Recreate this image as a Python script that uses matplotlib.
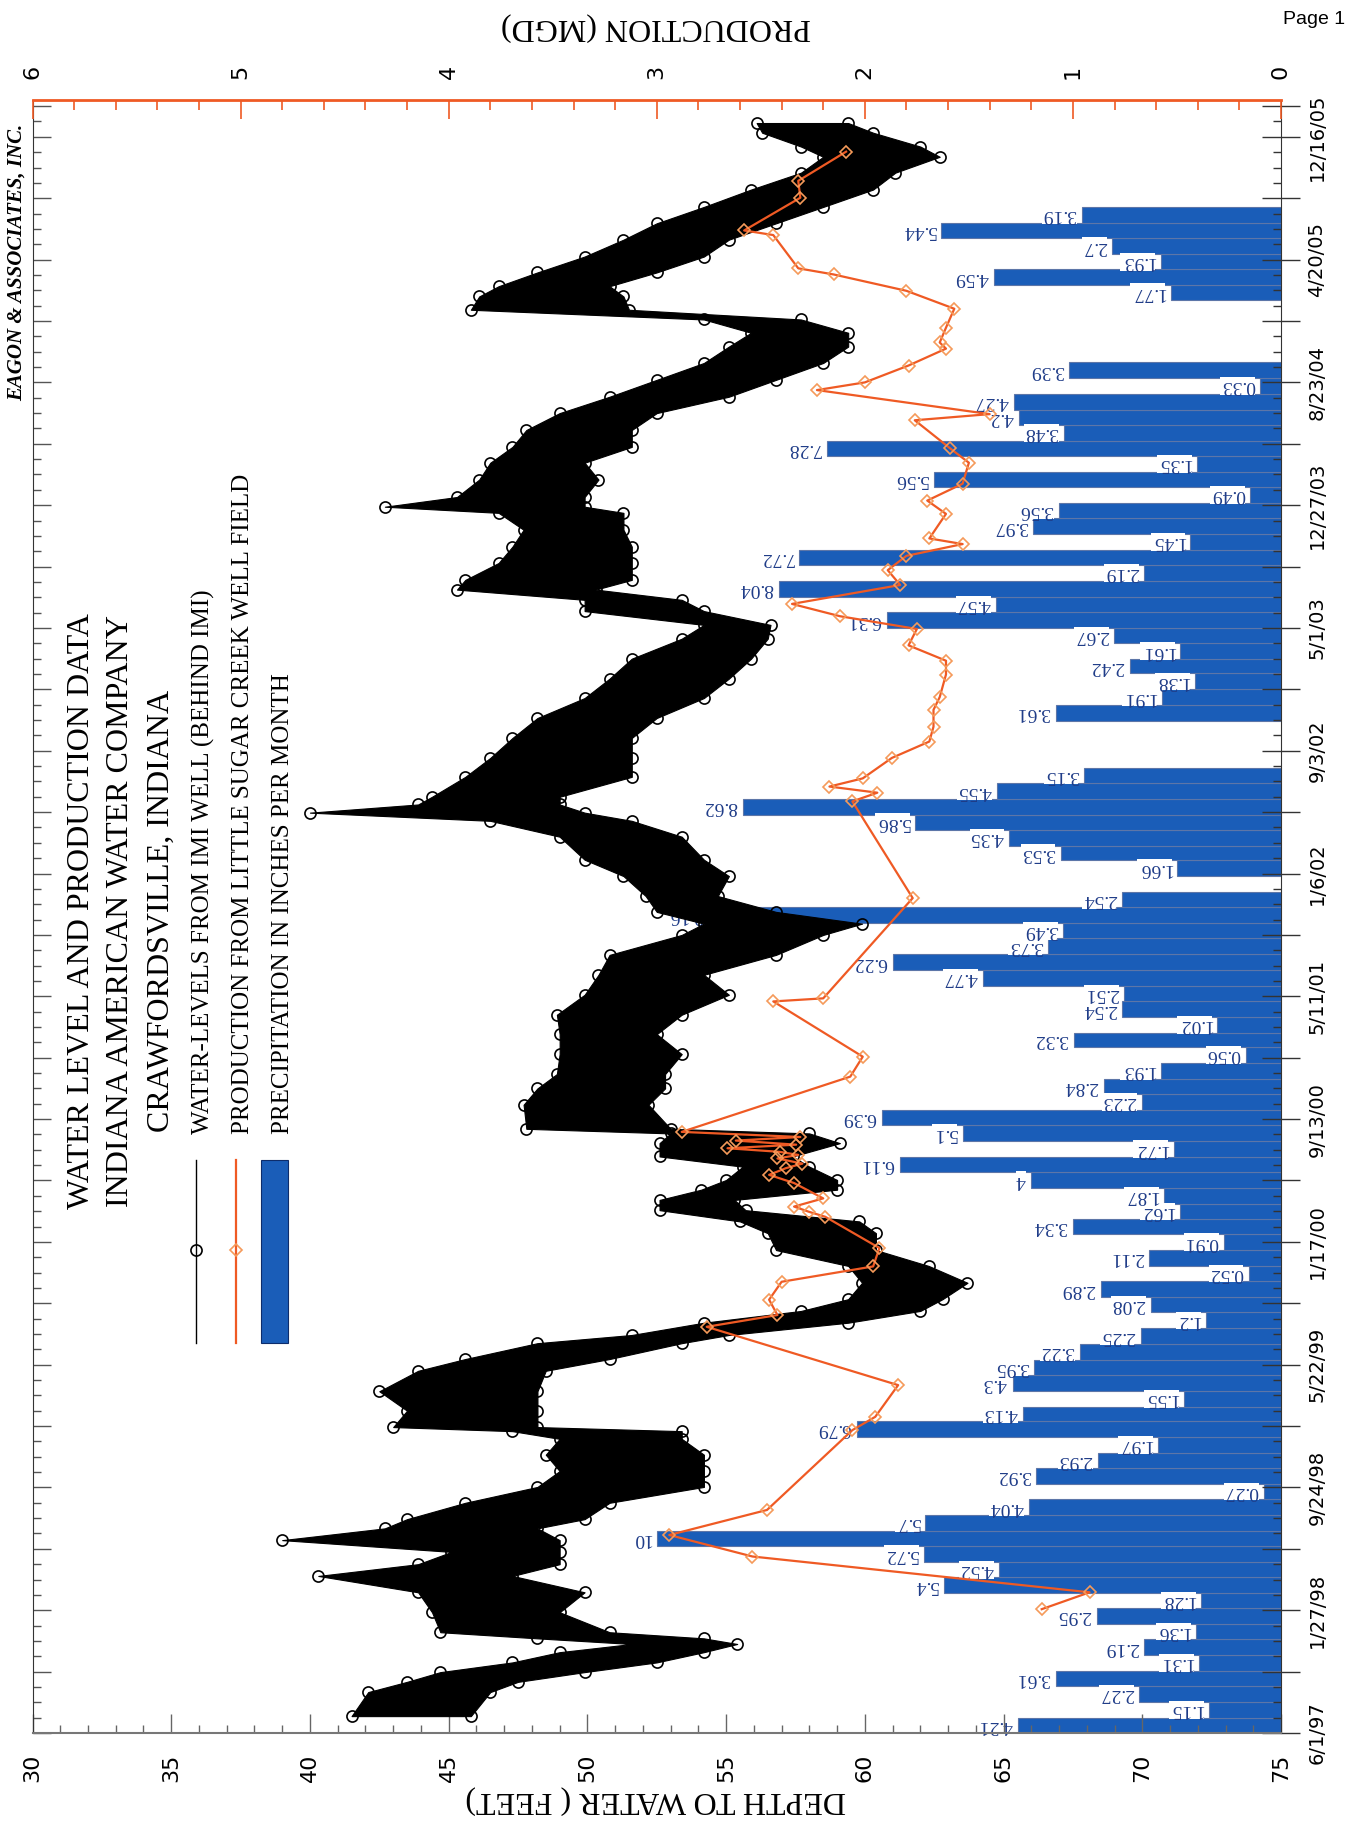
import numpy as np
import pandas as pd
import matplotlib
matplotlib.use("Agg")
import matplotlib.pyplot as plt
import matplotlib.dates as mdates
from matplotlib.ticker import MultipleLocator
from matplotlib.lines import Line2D
from matplotlib.patches import Rectangle

# ---- values ----
start = "1997-06-01"   # date origin of the record

# monthly precipitation (inches), Jun 1997 .. Jul 2005, None = no bar
rain_in = [
    4.21, 1.15, 2.27, 3.61, 1.31, 2.19, 1.36,
    2.95, 1.28, 5.4, 4.52, 5.72, 10, 5.7, 4.04, 0.27, 3.92, 2.93, 1.97,
    6.79, 4.13, 1.55, 4.3, 3.95, 3.22, 2.25, 1.2, 2.08, 2.89, 0.52, 2.11,
    0.91, 3.34, 1.62, 1.87, 4, 6.11, 1.72, 5.1, 6.39, 2.23, 2.84, 1.93,
    0.56, 3.32, 1.02, 2.54, 2.51, 4.77, 6.22, 3.73, 3.49, 9.16, 2.54, None,
    1.66, 3.53, 4.35, 5.86, 8.62, 4.55, 3.15, None, None, None, 3.61, 1.91,
    1.38, 2.42, 1.61, 2.67, 6.31, 4.57, 8.04, 2.19, 7.72, 1.45, 3.97, 3.56,
    0.49, 5.56, 1.35, 7.28, 3.48, 4.2, 4.27, 0.33, 3.39, None, None, None,
    None, 1.77, 4.59, 1.93, 2.7, 5.44, 3.19,
]

# water level in IMI well: day since start, shallow / deep edge of the band (ft)
wl_day = [33, 80, 100, 119, 138, 158, 174, 185, 197, 236, 275, 307, 330, 354,
          377, 400, 418, 450, 481, 512, 544, 575, 590, 598, 630, 668, 708, 731,
          762, 778, 802, 825, 848, 880, 913, 944, 977, 1000, 1022, 1042, 1062,
          1081, 1107, 1127, 1153, 1172, 1181, 1228, 1260, 1288, 1327, 1366,
          1404, 1443, 1482, 1521, 1560, 1582, 1605, 1636, 1675, 1707, 1752,
          1783, 1799, 1815, 1830, 1869, 1906, 1945, 1984, 2023, 2061, 2100,
          2139, 2166, 2193, 2215, 2235, 2254, 2287, 2319, 2352, 2385, 2397,
          2416, 2450, 2483, 2514, 2547, 2580, 2612, 2645, 2678, 2710, 2737,
          2763, 2782, 2808, 2828, 2855, 2886, 2919, 2951, 2983, 3017, 3050,
          3081, 3101, 3128, 3147]
wl_low = [41.5, 42.1, 43.5, 44.7, 47.3, 49.0, 51.6, 48.2, 44.7, 44.4, 43.9,
          40.3, 43.9, 45.1, 39.0, 42.7, 43.5, 45.6, 48.2, 49.0, 48.5, 49.0,
          47.3, 43.0, 43.5, 42.5, 43.9, 45.6, 48.2, 51.6, 54.2, 57.7, 59.4,
          59.9, 59.4, 56.8, 56.5, 55.5, 52.6, 52.6, 54.1, 55.0, 55.6, 52.6,
          52.6, 53.0, 47.8, 47.7, 48.2, 48.9, 49.0, 49.0, 48.9, 49.9, 50.4,
          50.8, 53.4, 54.2, 52.5, 52.1, 51.3, 49.9, 49.0, 46.5, 40.0, 43.9,
          44.4, 45.6, 46.5, 47.3, 48.2, 49.9, 50.8, 51.6, 53.4, 54.2, 49.9,
          49.9, 45.3, 45.6, 46.8, 47.3, 47.7, 46.8, 42.7, 45.3, 46.1, 46.5,
          47.3, 47.8, 49.0, 50.8, 52.5, 54.2, 55.1, 55.9, 54.2, 45.8, 46.1,
          46.8, 48.2, 49.9, 51.3, 52.5, 54.2, 55.9, 57.7, 58.5, 57.7, 56.3,
          56.1]
wl_high = [45.8, 46.5, 47.5, 49.9, 52.5, 54.2, 55.4, 54.2, 50.8, 49.0, 49.9,
           47.3, 49.0, 49.0, 49.0, 48.2, 49.9, 50.8, 54.2, 54.2, 54.2, 53.4,
           53.4, 48.2, 48.2, 48.2, 48.5, 50.8, 53.4, 55.1, 59.4, 62.0, 62.8,
           63.7, 62.3, 60.4, 60.4, 59.8, 55.7, 55.3, 59.0, 59.0, 58.0, 57.4,
           59.1, 58.0, 53.0, 52.2, 52.8, 52.8, 53.4, 52.5, 53.4, 55.1, 54.2,
           56.8, 58.5, 59.9, 56.8, 54.7, 55.1, 54.2, 53.4, 51.6, 49.9, 49.0,
           49.0, 51.6, 51.6, 51.6, 52.5, 54.2, 55.1, 55.9, 56.5, 56.6, 54.2,
           53.4, 50.3, 51.6, 51.6, 51.6, 51.3, 51.3, 49.9, 49.9, 50.4, 49.9,
           51.6, 51.6, 52.5, 55.1, 56.8, 58.5, 59.4, 59.4, 57.7, 51.5, 51.3,
           50.8, 52.5, 54.2, 55.1, 56.8, 58.5, 60.3, 61.1, 62.7, 62.0, 60.3,
           59.4]

# production from Little Sugar Creek well field: day since start, MGD
prod_day = [242, 275, 345, 387, 436, 592, 618, 680, 794, 817, 847, 882, 912,
            948, 1009, 1019, 1029, 1045, 1075, 1091, 1104, 1113, 1123, 1130,
            1136, 1143, 1150, 1158, 1165, 1175, 1283, 1322, 1430, 1436, 1632,
            1821, 1838, 1850, 1866, 1906, 1938, 1967, 2000, 2025, 2069, 2096,
            2126, 2158, 2183, 2207, 2244, 2273, 2301, 2324, 2335, 2383, 2409,
            2442, 2483, 2511, 2566, 2578, 2625, 2640, 2673, 2706, 2718, 2747,
            2784, 2819, 2851, 2863, 2928, 2937, 3001, 3034, 3091]
prod_mgd = [1.15, 0.92, 2.54, 2.94, 2.47, 2.06, 1.95, 1.84, 2.76, 2.42, 2.46,
            2.40, 1.96, 1.93, 2.19, 2.27, 2.34, 2.20, 2.34, 2.46, 2.38, 2.30,
            2.42, 2.32, 2.41, 2.66, 2.33, 2.62, 2.31, 2.88, 2.07, 2.01, 2.44,
            2.20, 1.77, 2.06, 1.94, 2.17, 2.01, 1.87, 1.69, 1.67, 1.67, 1.64,
            1.61, 1.61, 1.79, 1.75, 2.12, 2.35, 1.83, 1.89, 1.80, 1.53, 1.69,
            1.61, 1.70, 1.53, 1.50, 1.59, 1.76, 1.40, 2.23, 2.00, 1.79, 1.61,
            1.64, 1.61, 1.57, 1.80, 2.15, 2.32, 2.44, 2.58, 2.31, 2.32, 2.09]

date_labels = ["6/1/97", "1/27/98", "9/24/98", "5/22/99", "1/17/00", "9/13/00",
               "5/11/01", "1/6/02", "9/3/02", "5/1/03", "12/27/03", "8/23/04",
               "4/20/05", "12/16/05"]

# ---- styling ----
W, H = 1346, 1821
BAR = "#1a5db8"
BAR_EDGE = "#5d76a8"
LBL = "#1f3c88"
ORANGE = "#ef5a24"
SERIF = "Liberation Serif"

fig = plt.figure(figsize=(W / 100, H / 100), dpi=100)
rect = [32.5 / W, 1 - 1733 / H, (1281 - 32.5) / W, (1733 - 100) / H]

ax_r = fig.add_axes(rect)                 # precipitation (0..20 in, right to left)
ax = fig.add_axes(rect, sharey=ax_r)      # depth to water
ax.patch.set_visible(False)
ax_p = ax.twiny()                         # production (6..0 MGD)

t0 = mdates.date2num(pd.Timestamp(start))
t_end = mdates.date2num(pd.Timestamp("2006-02-26"))

# precipitation bars
months = pd.date_range(start, periods=len(rain_in), freq="MS")
m_lo = mdates.date2num(months)
m_hi = mdates.date2num(months + pd.offsets.MonthBegin(1))
for lo, hi, v in zip(m_lo, m_hi, rain_in):
    if v is None:
        continue
    ax_r.barh(lo, v, height=hi - lo, left=0, align="edge", color=BAR,
              edgecolor=BAR_EDGE, linewidth=0.8)
    ax_r.annotate(f"{v:g}", xy=(v, (lo + hi) / 2), xytext=(-4, 0),
                  textcoords="offset points", ha="right", va="center",
                  rotation=180, fontsize=14, color=LBL, family=SERIF,
                  bbox=dict(fc="white", ec="none", pad=0.3))
ax_r.set_xlim(20, 0)
for s in ax_r.spines.values():
    s.set_visible(False)
ax_r.xaxis.set_visible(False)

# water levels
wl_y = t0 + np.array(wl_day)
ax.fill_betweenx(wl_y, wl_low, wl_high, color="black", lw=0.8, zorder=2)
for edge in (wl_low, wl_high):
    ax.plot(edge, wl_y, "o", ms=8, mfc="none", mec="black", mew=1.2, zorder=3)
ax.set_xlim(30, 75)
ax.set_ylim(t0, t_end)

# production
ax_p.plot(prod_mgd, t0 + np.array(prod_day), color=ORANGE, lw=1.6, marker="D",
          ms=6.5, mfc="none", mec="#f59a5a", mew=1.2, zorder=4)
ax_p.set_xlim(6, 0)

# spines
ax.spines["top"].set_visible(False)
ax.spines["bottom"].set_color("#777777")
ax.spines["bottom"].set_linewidth(1.5)
for side in ("left", "right"):
    ax.spines[side].set_color("#333333")
for side in ("left", "right", "bottom"):
    ax_p.spines[side].set_visible(False)
ax_p.spines["top"].set_color(ORANGE)
ax_p.spines["top"].set_linewidth(2)

# depth ticks (bottom)
ax.xaxis.set_major_locator(MultipleLocator(5))
ax.xaxis.set_minor_locator(MultipleLocator(1))
ax.tick_params(axis="x", which="major", direction="in", length=14, width=1,
               color="#666666", labelsize=16, labelrotation=90, pad=15)
ax.tick_params(axis="x", which="minor", direction="in", length=6, width=1,
               color="#666666")

# production ticks (top)
ax_p.xaxis.set_major_locator(MultipleLocator(1))
ax_p.xaxis.set_minor_locator(MultipleLocator(0.2))
ax_p.tick_params(axis="x", which="major", direction="in", length=14, width=1.2,
                 color=ORANGE, labelsize=16, labelrotation=90, pad=15)
ax_p.tick_params(axis="x", which="minor", direction="in", length=7, width=1.2,
                 color=ORANGE)

# date ticks: labelled every 240 days, long ticks every 120, short every 30
lab_pos = mdates.date2num(pd.to_datetime(date_labels, format="%m/%d/%y"))
major_pos, major_lab = [], []
for i, (p, lab) in enumerate(zip(lab_pos, date_labels)):
    major_pos.append(p)
    major_lab.append(lab)
    if i + 1 < len(lab_pos):
        major_pos.append((p + lab_pos[i + 1]) / 2)
        major_lab.append("")
major_pos.append(lab_pos[-1] + 60)
major_lab.append("")
minor_pos = np.arange(t0, t_end, 30)
ax.set_yticks(major_pos, labels=major_lab)
ax.set_yticks(minor_pos, minor=True)
ax.tick_params(axis="y", which="major", left=False, right=True, labelleft=False,
               labelright=True, direction="inout", length=28, width=1,
               color="#333333", labelsize=14, labelrotation=90, pad=5)
ax.tick_params(axis="y", which="minor", left=False, right=True,
               direction="in", length=6, width=1, color="#333333")
for t in ax.yaxis.get_major_ticks():
    t.label2.set_va("center")
ax_r.tick_params(axis="y", which="major", left=True, right=False,
                 labelleft=False, direction="in", length=13, width=1,
                 color="#555555")
ax_r.tick_params(axis="y", which="minor", left=True, right=False,
                 direction="in", length=6, width=1, color="#555555")


def fx(px):
    return px / W


def fy(py):
    return 1 - py / H


# axis titles (upside down, as on the scanned sheet)
fig.text(fx(656), fy(1800), "DEPTH TO WATER ( FEET)", rotation=180,
         ha="center", va="center", fontsize=23, family=SERIF)
fig.text(fx(656), fy(27), "PRODUCTION (MGD)", rotation=180,
         ha="center", va="center", fontsize=23, family=SERIF)

# title block
for x, line in [(82, "WATER LEVEL AND PRODUCTION DATA"),
                (121, "INDIANA AMERICAN WATER COMPANY"),
                (161, "CRAWFORDSVILLE, INDIANA")]:
    fig.text(fx(x), fy(911), line, rotation=90, ha="center", va="center",
             fontsize=23, family=SERIF)

# legend
for x, line in [(203, "WATER-LEVELS FROM IMI WELL (BEHIND IMI)"),
                (243, "PRODUCTION FROM LITTLE SUGAR CREEK WELL FIELD"),
                (283, "PRECIPITATION IN INCHES PER MONTH")]:
    fig.text(fx(x), fy(1134), line, rotation=90, ha="center", va="bottom",
             fontsize=18, family=SERIF)
fig.add_artist(Line2D([fx(196)] * 2, [fy(1160), fy(1343)], color="black",
                      lw=1, transform=fig.transFigure))
fig.add_artist(Line2D([fx(196)], [fy(1250)], marker="o", ms=8, mfc="none",
                      mec="black", mew=1.2, ls="none", transform=fig.transFigure))
fig.add_artist(Line2D([fx(236)] * 2, [fy(1160), fy(1343)], color=ORANGE,
                      lw=1.6, transform=fig.transFigure))
fig.add_artist(Line2D([fx(236)], [fy(1250)], marker="D", ms=6.5, mfc="none",
                      mec="#f59a5a", mew=1.2, ls="none",
                      transform=fig.transFigure))
fig.add_artist(Rectangle((fx(261), fy(1343)), fx(288) - fx(261),
                         fy(1160) - fy(1343), fc=BAR, ec="#0d2c6b", lw=0.8,
                         transform=fig.transFigure))

fig.text(fx(17), fy(262), "EAGON & ASSOCIATES, INC.", rotation=90,
         ha="center", va="center", fontsize=15, family=SERIF,
         fontweight="bold", fontstyle="italic")
fig.text(fx(1283), fy(19), "Page 1", ha="left", va="center", fontsize=14,
         family="Liberation Sans")

fig.savefig("out.png", dpi=100)
